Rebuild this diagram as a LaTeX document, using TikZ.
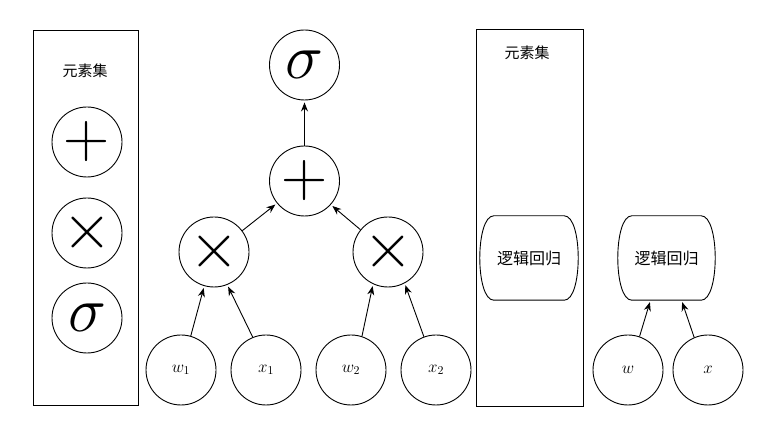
\RequirePackage{fix-cm}
\documentclass[tikz,border=0pt]{standalone}
\usepackage{fontspec}
\newfontfamily\cjk{Noto Sans CJK SC}
\usetikzlibrary{arrows.meta,calc}
\tikzset{
  opnode/.style={circle,draw,line width=0.9pt,minimum size=70pt,inner sep=0pt,font=\fontsize{64}{64}\selectfont},
  varnode/.style={circle,draw,line width=0.9pt,minimum size=70pt,inner sep=0pt,font=\fontsize{17}{17}\selectfont},
  panel/.style={rectangle,draw,line width=0.9pt,inner sep=0pt},
  title/.style={font=\cjk\fontsize{15}{15}\selectfont},
  lrbox/.style={rectangle,draw=none,inner sep=0pt,font=\cjk\fontsize{16}{16}\selectfont},
  conn/.style={line width=0.9pt,-{Stealth[length=9pt,width=7pt]},shorten >=2pt},
}
\begin{document}
\begin{tikzpicture}[x=1pt,y=-1pt]
\useasboundingbox (0,0) rectangle (777,435);
% left panel
\node[panel,minimum width=105pt,minimum height=375pt] (lp) at (85.5,217.5) {};
\node[title] (lpt) at (85,71) {元素集};
\node[opnode] (e1) at (87,142) {$+$};
\node[opnode] (e2) at (87,233) {$\times$};
\node[opnode] (e3) at (87,318) {$\sigma$};
% tree
\node[opnode] (sg) at (304.5,65) {$\sigma$};
\node[opnode] (pl) at (304.5,181) {$+$};
\node[opnode] (t1) at (214,252) {$\times$};
\node[opnode] (t2) at (388,252) {$\times$};
\node[varnode] (w1) at (181,370) {$w_1$};
\node[varnode] (x1) at (266,370) {$x_1$};
\node[varnode] (w2) at (351,370) {$w_2$};
\node[varnode] (x2) at (436,370) {$x_2$};
\draw[conn] (pl.north) -- (sg.south);
\draw[conn] (t1.37) -- (pl.219);
\draw[conn] (t2.141) -- (pl.318);
\draw[conn] (w1.74) -- (t1.254);
\draw[conn] (x1.112) -- (t1.292);
\draw[conn] (w2.72) -- (t2.245);
\draw[conn] (x2.110) -- (t2.298);
% right panel
\node[panel,minimum width=107pt,minimum height=377pt] (rp) at (529.5,217.5) {};
\node[title] (rpt) at (527,53) {元素集};
\node[lrbox,minimum width=98pt,minimum height=84pt] (lr1) at (529,258) {逻辑回归};
\node[lrbox,minimum width=97pt,minimum height=84pt] (lr2) at (666.5,258) {逻辑回归};
\foreach \n in {lr1,lr2}{
  \draw[line width=0.9pt]
    ([xshift=14pt]\n.north west) -- ([xshift=-14pt]\n.north east)
    .. controls ([xshift=4.7pt]\n.north east) and ([xshift=4.7pt]\n.south east) .. ([xshift=-14pt]\n.south east)
    -- ([xshift=14pt]\n.south west)
    .. controls ([xshift=-4.7pt]\n.south west) and ([xshift=-4.7pt]\n.north west) .. cycle;
}
\node[varnode] (w) at (628,370) {$w$};
\node[varnode] (x) at (708,370) {$x$};
\draw[conn] (w.71) -- ([xshift=-16pt]lr2.south);
\draw[conn] (x.113) -- ([xshift=15pt]lr2.south);
\end{tikzpicture}
\end{document}
